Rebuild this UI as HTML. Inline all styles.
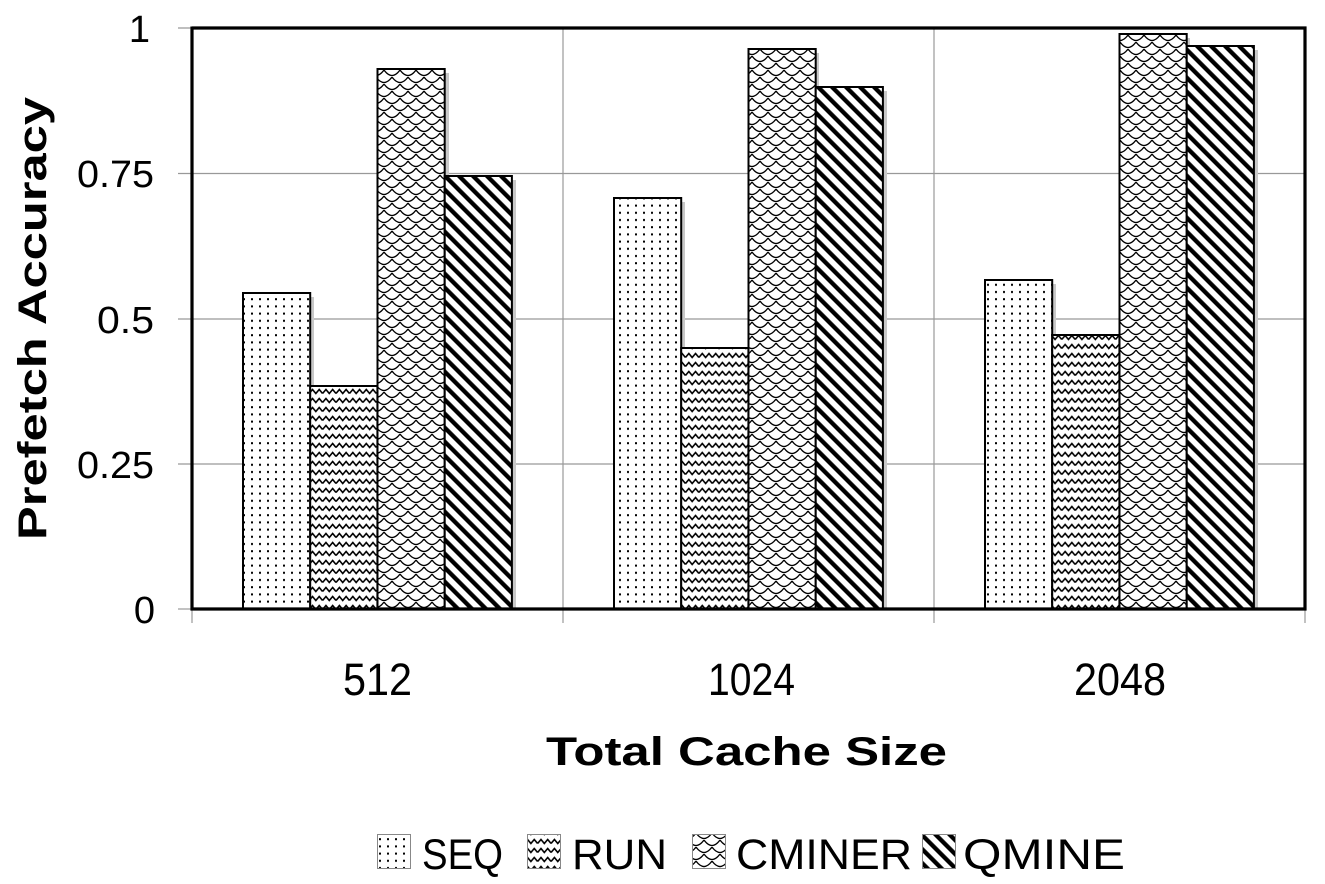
<!DOCTYPE html>
<html>
<head>
<meta charset="utf-8">
<style>
  html,body{margin:0;padding:0;background:#fff;}
  svg{display:block;}
  text{font-family:"Liberation Sans", sans-serif; fill:#000;}
</style>
</head>
<body>
<svg width="1325" height="884" viewBox="0 0 1325 884" xmlns="http://www.w3.org/2000/svg">
  <defs>
    <pattern id="pSeq" patternUnits="userSpaceOnUse" width="8" height="7.2">
      <rect width="8" height="7.2" fill="#fff"/>
      <rect x="3" y="3" width="2" height="2" fill="#000"/>
    </pattern>
    <pattern id="pRun" patternUnits="userSpaceOnUse" width="13.44" height="9">
      <rect width="13.44" height="9" fill="#fff"/>
      <path d="M0,6.5 L3.4,2.5 L6.72,6.5 L10.1,2.5 L13.44,6.5" fill="none" stroke="#000" stroke-width="1.6"/>
    </pattern>
    <pattern id="pCm" patternUnits="userSpaceOnUse" width="16" height="14">
      <rect width="16" height="14" fill="#fff"/>
      <path d="M0,0 Q8,11 16,0 M-8,7 Q0,18 8,7 M8,7 Q16,18 24,7 M-8,-7 Q0,4 8,-7 M8,-7 Q16,4 24,-7 M0,14 Q8,25 16,14" fill="none" stroke="#000" stroke-width="1.3"/>
    </pattern>
    <pattern id="pQm" patternUnits="userSpaceOnUse" width="9.9" height="20" patternTransform="rotate(-45)">
      <rect width="9.9" height="20" fill="#fff"/>
      <rect x="0" y="0" width="4.3" height="20" fill="#000"/>
    </pattern>
  </defs>

  <!-- gridlines -->
  <g stroke="#999" stroke-width="1.2">
    <line x1="178" y1="28" x2="1305" y2="28"/>
    <line x1="178" y1="173.5" x2="1305" y2="173.5"/>
    <line x1="178" y1="319" x2="1305" y2="319"/>
    <line x1="178" y1="464" x2="1305" y2="464"/>
    <line x1="178" y1="609" x2="192" y2="609"/>
    <line x1="563" y1="28" x2="563" y2="623"/>
    <line x1="934" y1="28" x2="934" y2="623"/>
    <line x1="192" y1="609" x2="192" y2="623"/>
    <line x1="1305" y1="609" x2="1305" y2="623"/>
  </g>

  <!-- shadows -->
  <g fill="#c8c8c8">
    <rect x="247" y="297" width="67" height="312"/>
    <rect x="314" y="390" width="67" height="219"/>
    <rect x="382" y="73" width="67" height="536"/>
    <rect x="449" y="180" width="67" height="429"/>

    <rect x="618" y="202" width="67" height="407"/>
    <rect x="685" y="352" width="67" height="257"/>
    <rect x="752" y="53" width="67" height="556"/>
    <rect x="820" y="91" width="67" height="518"/>

    <rect x="989" y="284" width="67" height="325"/>
    <rect x="1056" y="339" width="67" height="270"/>
    <rect x="1123" y="38" width="67" height="571"/>
    <rect x="1191" y="50" width="67" height="559"/>
  </g>

  <!-- bars -->
  <g stroke="#000" stroke-width="2">
    <rect x="243" y="293" width="67.2" height="316" fill="url(#pSeq)"/>
    <rect x="310.2" y="386" width="67.2" height="223" fill="url(#pRun)"/>
    <rect x="377.5" y="69" width="67.2" height="540" fill="url(#pCm)"/>
    <rect x="444.7" y="176" width="67.2" height="433" fill="url(#pQm)"/>

    <rect x="614" y="198" width="67.2" height="411" fill="url(#pSeq)"/>
    <rect x="681.2" y="348" width="67.2" height="261" fill="url(#pRun)"/>
    <rect x="748.5" y="49" width="67.2" height="560" fill="url(#pCm)"/>
    <rect x="815.7" y="87" width="67.2" height="522" fill="url(#pQm)"/>

    <rect x="985" y="280" width="67.2" height="329" fill="url(#pSeq)"/>
    <rect x="1052.2" y="335" width="67.2" height="274" fill="url(#pRun)"/>
    <rect x="1119.5" y="34" width="67.2" height="575" fill="url(#pCm)"/>
    <rect x="1186.7" y="46" width="67.2" height="563" fill="url(#pQm)"/>
  </g>

  <!-- frame / axes -->
  <g stroke="#000" stroke-width="3.2" fill="none">
    <line x1="192" y1="28" x2="1306.5" y2="28"/>
    <line x1="1305" y1="26.5" x2="1305" y2="610.5"/>
    <line x1="192" y1="26.5" x2="192" y2="610.5"/>
    <line x1="190.5" y1="609" x2="1306.5" y2="609"/>
  </g>

  <!-- y tick labels -->
  <g font-size="38" text-anchor="end">
    <text x="150" y="42">1</text>
    <text x="154" y="187" textLength="77" lengthAdjust="spacingAndGlyphs">0.75</text>
    <text x="154" y="333" textLength="57" lengthAdjust="spacingAndGlyphs">0.5</text>
    <text x="154" y="478" textLength="77" lengthAdjust="spacingAndGlyphs">0.25</text>
    <text x="155" y="623">0</text>
  </g>

  <!-- x category labels -->
  <g font-size="45">
    <text x="343" y="695" textLength="69" lengthAdjust="spacingAndGlyphs">512</text>
    <text x="708" y="695" textLength="87" lengthAdjust="spacingAndGlyphs">1024</text>
    <text x="1074" y="695" textLength="92" lengthAdjust="spacingAndGlyphs">2048</text>
  </g>

  <!-- axis titles -->
  <text x="546" y="765" font-size="40" font-weight="bold" textLength="401" lengthAdjust="spacingAndGlyphs">Total Cache Size</text>
  <text transform="translate(46,540) rotate(-90)" x="0" y="0" font-size="40" font-weight="bold" textLength="443" lengthAdjust="spacingAndGlyphs">Prefetch Accuracy</text>

  <!-- legend -->
  <g stroke="#888" stroke-width="1">
    <rect x="377.5" y="834.5" width="33" height="34" fill="url(#pSeq)"/>
    <rect x="527.5" y="834.5" width="33" height="34" fill="url(#pRun)"/>
    <rect x="692.5" y="834.5" width="33" height="34" fill="url(#pCm)"/>
    <rect x="922.5" y="834.5" width="33" height="34" fill="url(#pQm)"/>
  </g>
  <g font-size="43">
    <text x="422" y="869" textLength="81" lengthAdjust="spacingAndGlyphs">SEQ</text>
    <text x="572" y="869" textLength="95" lengthAdjust="spacingAndGlyphs">RUN</text>
    <text x="736" y="869" textLength="176" lengthAdjust="spacingAndGlyphs">CMINER</text>
    <text x="963" y="869" textLength="162" lengthAdjust="spacingAndGlyphs">QMINE</text>
  </g>
</svg>
</body>
</html>
